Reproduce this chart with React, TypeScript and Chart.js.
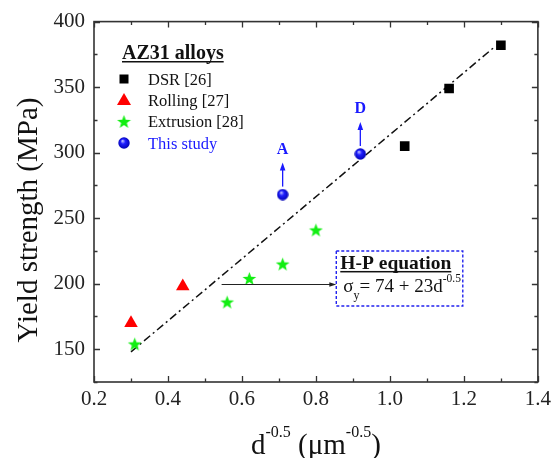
import React, { useEffect, useRef } from "react";
import { Chart, registerables } from "chart.js";
Chart.register(...registerables);

const dsrX = [1.04, 1.16, 1.3];
const dsrY = [305, 349, 382];
const rollingX = [0.3, 0.44];
const rollingY = [170, 198];
const extrusionX = [0.31, 0.56, 0.62, 0.71, 0.8];
const extrusionY = [154, 186, 204, 215, 241];
const studyX = [0.71, 0.92];
const studyY = [268, 299];
const studyLabels = ["A", "D"];
const fitX = [0.3, 1.28];
const fitY = [148, 380];
const xTicks = [0.2, 0.4, 0.6, 0.8, 1.0, 1.2, 1.4];
const xMinorTicks = [0.3, 0.5, 0.7, 0.9, 1.1, 1.3];
const yTicks = [150, 200, 250, 300, 350, 400];
const yMinorTicks = [125, 175, 225, 275, 325, 375];
const seriesNames = ["DSR [26]", "Rolling [27]", "Extrusion [28]", "This study"];
const legendTitle = "AZ31 alloys";
const eqTitle = "H-P equation";
const hpArrowFrom = [0.545, 200];
const hpBox = [0.855, 1.197, 225, 183];

const SERIF = "'Liberation Serif', 'Times New Roman', Tinos, Times, serif";
const GREEN = "#12ee12";
const RED = "#ff0000";
const BLUE = "#1a1aff";

function makeStar(size: number, color: string) {
  const c = document.createElement("canvas");
  c.width = size;
  c.height = size;
  const g = c.getContext("2d")!;
  const cx = size / 2, cy = size / 2 + 0.6, R = size / 2 - 0.3, r = R * 0.42;
  g.beginPath();
  for (let i = 0; i < 10; i++) {
    const a = -Math.PI / 2 + (i * Math.PI) / 5;
    const rr = i % 2 ? r : R;
    g.lineTo(cx + rr * Math.cos(a), cy + rr * Math.sin(a));
  }
  g.closePath();
  g.fillStyle = color;
  g.fill();
  return c;
}

function makeBall(size: number) {
  const c = document.createElement("canvas");
  c.width = size;
  c.height = size;
  const g = c.getContext("2d")!;
  const r = size / 2;
  const grad = g.createRadialGradient(r * 0.75, r * 0.65, 0.5, r, r, r);
  grad.addColorStop(0, "#b0b0ff");
  grad.addColorStop(0.35, "#2020ff");
  grad.addColorStop(1, "#0000b0");
  g.beginPath();
  g.arc(r, r, r - 0.3, 0, Math.PI * 2);
  g.fillStyle = grad;
  g.fill();
  return c;
}

export default function App() {
  const ref = useRef<HTMLCanvasElement | null>(null);
  useEffect(() => {
    const canvas = ref.current!;
    let chart: Chart | null = null;
    let cancelled = false;
    const star = makeStar(15, GREEN);
    const ball = makeBall(12);

    const pts = (xs: number[], ys: number[]) => xs.map((x, i) => ({ x, y: ys[i] }));

    const decor = {
      id: "decor",
      afterDraw(ch: any) {
        const ctx = ch.ctx as CanvasRenderingContext2D;
        const xs = ch.scales.x;
        const ys = ch.scales.y;
        const a = ch.chartArea;
        ctx.save();
        ctx.strokeStyle = "#333";
        ctx.lineWidth = 1.6;
        ctx.strokeRect(a.left, a.top, a.right - a.left, a.bottom - a.top);
        ctx.lineWidth = 1.3;
        ctx.beginPath();
        const tickX = (v: number, len: number) => {
          const px = Math.round(xs.getPixelForValue(v)) + 0.5;
          ctx.moveTo(px, a.bottom);
          ctx.lineTo(px, a.bottom - len);
          ctx.moveTo(px, a.top);
          ctx.lineTo(px, a.top + len);
        };
        const tickY = (v: number, len: number) => {
          const py = Math.round(ys.getPixelForValue(v)) + 0.5;
          ctx.moveTo(a.left, py);
          ctx.lineTo(a.left + len, py);
          ctx.moveTo(a.right, py);
          ctx.lineTo(a.right - len, py);
        };
        xTicks.forEach((v) => tickX(v, 6));
        xMinorTicks.forEach((v) => tickX(v, 3.5));
        yTicks.forEach((v) => tickY(v, 6));
        yMinorTicks.forEach((v) => tickY(v, 3.5));
        ctx.stroke();

        // legend
        const lx = 124;
        const ty = 59;
        ctx.fillStyle = "#111";
        ctx.font = `bold 20px ${SERIF}`;
        ctx.textBaseline = "alphabetic";
        ctx.textAlign = "left";
        ctx.fillText(legendTitle, 122, ty);
        const tw = ctx.measureText(legendTitle).width;
        ctx.fillRect(122, ty + 2, tw, 1.5);
        const rows = [79, 100, 121.5, 143];
        ctx.font = `16.5px ${SERIF}`;
        seriesNames.forEach((name, i) => {
          const y = rows[i];
          ctx.fillStyle = i === 3 ? BLUE : "#111";
          ctx.fillText(name, 148, y + 5.5);
          if (i === 0) {
            ctx.fillStyle = "#000";
            ctx.fillRect(lx - 4.5, y - 4.5, 9, 9);
          } else if (i === 1) {
            ctx.fillStyle = RED;
            ctx.beginPath();
            ctx.moveTo(lx, y - 7);
            ctx.lineTo(lx + 7, y + 5);
            ctx.lineTo(lx - 7, y + 5);
            ctx.closePath();
            ctx.fill();
          } else if (i === 2) {
            ctx.drawImage(star, lx - 7.5, y - 7.5);
          } else {
            ctx.drawImage(ball, lx - 6, y - 6);
          }
        });

        // A / D arrows and labels
        ctx.strokeStyle = BLUE;
        ctx.fillStyle = BLUE;
        ctx.lineWidth = 1.3;
        studyX.forEach((x, i) => {
          const px = xs.getPixelForValue(x);
          const py = ys.getPixelForValue(studyY[i]);
          ctx.beginPath();
          ctx.moveTo(px, py - 8);
          ctx.lineTo(px, py - 27);
          ctx.stroke();
          ctx.beginPath();
          ctx.moveTo(px, py - 32);
          ctx.lineTo(px + 2.8, py - 24);
          ctx.lineTo(px - 2.8, py - 24);
          ctx.closePath();
          ctx.fill();
          ctx.font = `bold 16px ${SERIF}`;
          ctx.textAlign = "center";
          ctx.fillText(studyLabels[i], px, py - 41);
        });

        // H-P box and arrow
        const bl = xs.getPixelForValue(hpBox[0]);
        const br = xs.getPixelForValue(hpBox[1]);
        const bt = ys.getPixelForValue(hpBox[2]);
        const bb = ys.getPixelForValue(hpBox[3]);
        const ay = Math.round(ys.getPixelForValue(hpArrowFrom[1])) + 0.5;
        const ax0 = xs.getPixelForValue(hpArrowFrom[0]);
        ctx.strokeStyle = "#222";
        ctx.fillStyle = "#222";
        ctx.lineWidth = 1;
        ctx.beginPath();
        ctx.moveTo(ax0, ay);
        ctx.lineTo(bl - 5, ay);
        ctx.stroke();
        ctx.beginPath();
        ctx.moveTo(bl, ay);
        ctx.lineTo(bl - 7, ay - 2.3);
        ctx.lineTo(bl - 7, ay + 2.3);
        ctx.closePath();
        ctx.fill();

        ctx.strokeStyle = "#2222ee";
        ctx.lineWidth = 1.4;
        ctx.setLineDash([3, 2]);
        ctx.strokeRect(bl, bt, br - bl, bb - bt);
        ctx.setLineDash([]);

        ctx.textAlign = "left";
        ctx.fillStyle = "#111";
        ctx.font = `bold 19.5px ${SERIF}`;
        ctx.fillText(eqTitle, bl + 4, bt + 18);
        const ew = ctx.measureText(eqTitle).width;
        ctx.fillRect(bl + 4, bt + 20, ew, 1.5);
        let ex = bl + 7;
        const eb = bt + 41;
        ctx.font = `19px ${SERIF}`;
        ctx.fillText("\u03c3", ex, eb);
        ex += ctx.measureText("\u03c3").width;
        ctx.font = `12px ${SERIF}`;
        ctx.fillText("y", ex, eb + 7);
        ex += ctx.measureText("y").width;
        ctx.font = `19px ${SERIF}`;
        const mid = "= 74 + 23d";
        ctx.fillText(mid, ex, eb);
        ex += ctx.measureText(mid).width;
        ctx.font = `11.5px ${SERIF}`;
        ctx.fillText("-0.5", ex, eb - 10);

        // axis titles
        ctx.fillStyle = "#111";
        const xParts: [string, number, number][] = [
          ["d", 29, 0],
          ["-0.5", 16, -17],
          [" (\u03bcm", 29, 0],
          ["-0.5", 16, -17],
          [")", 29, 0],
        ];
        let total = 0;
        xParts.forEach(([t, s]) => {
          ctx.font = `${s}px ${SERIF}`;
          total += ctx.measureText(t).width;
        });
        let cx = (a.left + a.right) / 2 - total / 2;
        const base = 454;
        xParts.forEach(([t, s, dy]) => {
          ctx.font = `${s}px ${SERIF}`;
          ctx.fillText(t, cx, base + dy);
          cx += ctx.measureText(t).width;
        });

        ctx.save();
        ctx.translate(37, 220);
        ctx.rotate(-Math.PI / 2);
        ctx.font = `29px ${SERIF}`;
        ctx.textAlign = "center";
        ctx.fillText("Yield strength (MPa)", 0, 0);
        ctx.restore();

        ctx.restore();
      },
    };

    const build = () => {
      if (cancelled) return;
      chart = new Chart(canvas, {
        type: "scatter",
        data: {
          datasets: [
            {
              label: seriesNames[3],
              data: pts(studyX, studyY),
              pointStyle: ball as any,
              pointRadius: 6,
              backgroundColor: BLUE,
            },
            {
              label: seriesNames[0],
              data: pts(dsrX, dsrY),
              pointStyle: "rect",
              pointRadius: 6.8,
              backgroundColor: "#000",
              borderColor: "#000",
              borderWidth: 0,
            },
            {
              label: seriesNames[1],
              data: pts(rollingX, rollingY),
              pointStyle: "triangle",
              pointRadius: 7.8,
              backgroundColor: RED,
              borderColor: RED,
              borderWidth: 0,
            },
            {
              label: seriesNames[2],
              data: pts(extrusionX, extrusionY),
              pointStyle: star as any,
              pointRadius: 7.5,
              backgroundColor: GREEN,
            },
            {
              label: "fit",
              data: pts(fitX, fitY),
              showLine: true,
              borderColor: "#111",
              borderWidth: 1.5,
              borderDash: [8, 3.5, 2, 3.5],
              pointRadius: 0,
              fill: false,
            },
          ],
        },
        options: {
          responsive: false,
          animation: false,
          devicePixelRatio: 1,
          layout: { padding: { left: 0, right: 13, top: 21, bottom: 0 } },
          plugins: { legend: { display: false }, tooltip: { enabled: false } },
          scales: {
            x: {
              type: "linear",
              min: 0.2,
              max: 1.4,
              grid: { display: false, drawTicks: false },
              border: { display: false },
              afterFit: (s: any) => {
                s.height = 76;
              },
              afterBuildTicks: (s: any) => {
                s.ticks = xTicks.map((v) => ({ value: v }));
              },
              ticks: {
                padding: 5,
                color: "#222",
                font: { family: SERIF, size: 21 },
                callback: (v: any) => Number(v).toFixed(1),
              },
            },
            y: {
              type: "linear",
              min: 125,
              max: 400,
              grid: { display: false, drawTicks: false },
              border: { display: false },
              afterFit: (s: any) => {
                s.width = 94;
              },
              afterBuildTicks: (s: any) => {
                s.ticks = yTicks.map((v) => ({ value: v }));
              },
              ticks: {
                padding: 9,
                color: "#222",
                font: { family: SERIF, size: 21 },
                callback: (v: any) => String(v),
              },
            },
          },
        },
        plugins: [decor],
      });
    };

    const fonts = (document as any).fonts;
    if (fonts && fonts.load) {
      Promise.all([
        fonts.load(`21px ${SERIF}`),
        fonts.load(`bold 21px ${SERIF}`),
      ])
        .catch(() => null)
        .then(build);
    } else {
      build();
    }
    return () => {
      cancelled = true;
      if (chart) chart.destroy();
    };
  }, []);
  return (
    <div style={{ position: "fixed", left: 0, top: 0, width: 556, height: 458, background: "#fff" }}>
      <canvas ref={ref} width={556} height={458} style={{ display: "block" }} />
    </div>
  );
}
